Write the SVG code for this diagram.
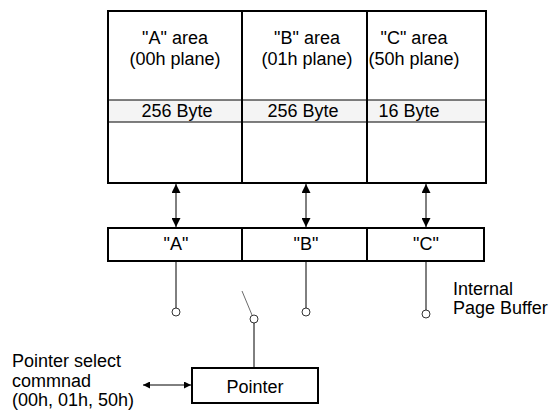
<svg xmlns="http://www.w3.org/2000/svg" width="551" height="415" viewBox="0 0 551 415">
<style>
text{font-family:"Liberation Sans",Arial,sans-serif;font-size:18px;fill:#000}
.c{text-anchor:middle}
.box{fill:#fff;stroke:#000;stroke-width:2}
.thin{stroke:#000;stroke-width:1;fill:none}
.term{fill:#fff;stroke:#000;stroke-width:0.8}
</style>
<defs>
<marker id="ah" viewBox="0 0 10 10" refX="10" refY="5" markerWidth="7" markerHeight="7" markerUnits="userSpaceOnUse" orient="auto-start-reverse">
<path d="M0,0 L10,5 L0,10 z" fill="#000"/>
</marker>
<marker id="ah2" viewBox="0 0 10 10" refX="10" refY="5" markerWidth="10" markerHeight="9" markerUnits="userSpaceOnUse" orient="auto-start-reverse">
<path d="M0,0 L10,5 L0,10 z" fill="#000"/>
</marker>
</defs>
<g id="memory">
<rect class="box" x="108" y="11" width="378" height="172"/>
<rect x="109" y="100" width="376" height="22" fill="#f4f4f4"/>
<line class="thin" x1="108" y1="100" x2="486" y2="100"/>
<line class="thin" x1="108" y1="122" x2="486" y2="122"/>
<line x1="242" y1="11" x2="242" y2="183" stroke="#000" stroke-width="2"/>
<line x1="367" y1="11" x2="367" y2="183" stroke="#000" stroke-width="2"/>
<text class="c" x="175" y="44">"A" area</text>
<text class="c" x="175" y="65">(00h plane)</text>
<text class="c" x="307" y="44">"B" area</text>
<text class="c" x="307" y="65">(01h plane)</text>
<text class="c" x="414" y="44">"C" area</text>
<text class="c" x="414" y="65">(50h plane)</text>
<text class="c" x="177" y="117">256 Byte</text>
<text class="c" x="303" y="117">256 Byte</text>
<text class="c" x="409" y="117">16 Byte</text>
</g>
<g id="buffer">
<rect class="box" x="108" y="228" width="376" height="33"/>
<line x1="242" y1="228" x2="242" y2="261" stroke="#000" stroke-width="2"/>
<line x1="367" y1="228" x2="367" y2="261" stroke="#000" stroke-width="2"/>
<text class="c" x="176" y="250">"A"</text>
<text class="c" x="306" y="250">"B"</text>
<text class="c" x="426" y="250">"C"</text>
</g>
<g id="pointer">
<rect class="box" x="192" y="368" width="126" height="35"/>
<text class="c" x="255" y="393">Pointer</text>
</g>
<g id="labels">
<text x="453" y="295">Internal</text>
<text x="453" y="314">Page Buffer</text>
<text x="12" y="367">Pointer select</text>
<text x="12" y="387">commnad</text>
<text x="12" y="406">(00h, 01h, 50h)</text>
</g>
<g id="connectors">
<line class="thin" x1="176" y1="184" x2="176" y2="227" marker-start="url(#ah2)" marker-end="url(#ah2)"/>
<line class="thin" x1="306" y1="184" x2="306" y2="227" marker-start="url(#ah2)" marker-end="url(#ah2)"/>
<line class="thin" x1="426" y1="184" x2="426" y2="227" marker-start="url(#ah2)" marker-end="url(#ah2)"/>
<line class="thin" x1="176" y1="262" x2="176" y2="308"/>
<line class="thin" x1="306" y1="262" x2="306" y2="308"/>
<line class="thin" x1="426" y1="262" x2="426" y2="310"/>
<circle class="term" cx="176" cy="312" r="4"/>
<circle class="term" cx="306" cy="312" r="4"/>
<circle class="term" cx="426" cy="314" r="4"/>
<line x1="242" y1="291" x2="252" y2="315" stroke="#444" stroke-width="0.8"/>
<circle class="term" cx="254" cy="319" r="4"/>
<line class="thin" x1="254" y1="323" x2="254" y2="367"/>
<line class="thin" x1="143" y1="385" x2="191" y2="385" marker-start="url(#ah)" marker-end="url(#ah)"/>
</g>
</svg>
